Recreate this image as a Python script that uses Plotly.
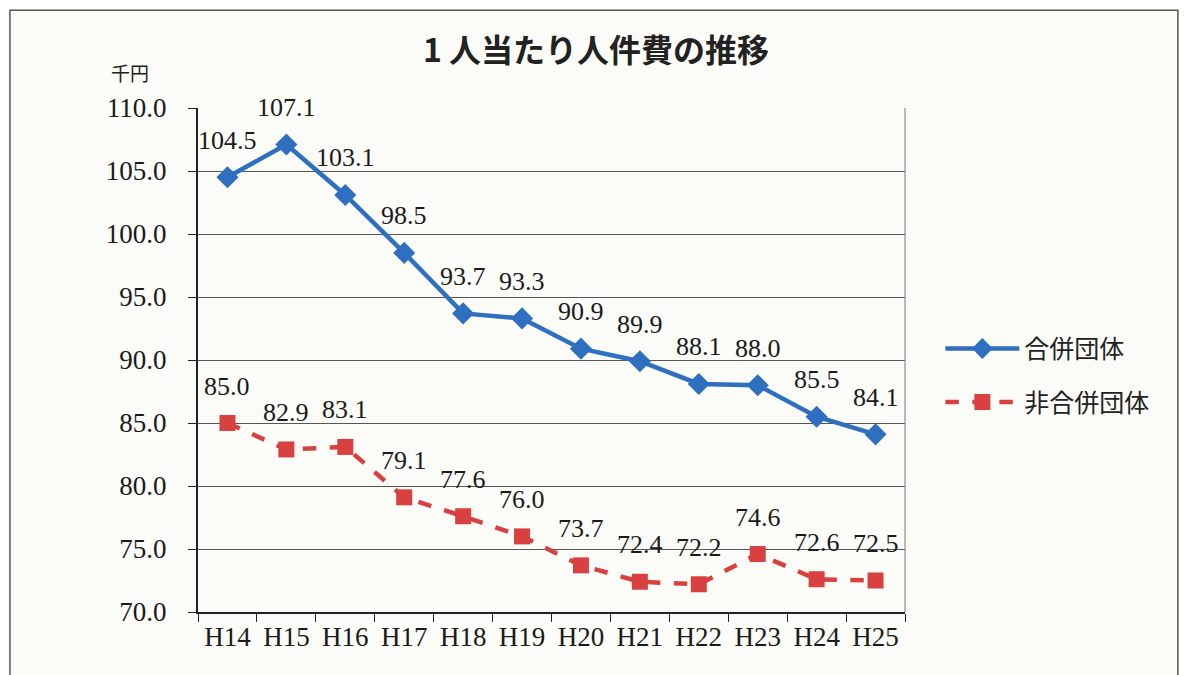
import plotly.graph_objects as go

categories = ["H14", "H15", "H16", "H17", "H18", "H19", "H20", "H21", "H22", "H23", "H24", "H25"]
merged = [104.5, 107.1, 103.1, 98.5, 93.7, 93.3, 90.9, 89.9, 88.1, 88.0, 85.5, 84.1]
non_merged = [85.0, 82.9, 83.1, 79.1, 77.6, 76.0, 73.7, 72.4, 72.2, 74.6, 72.6, 72.5]
y_ticks = [70, 75, 80, 85, 90, 95, 100, 105, 110]

serif = "Liberation Serif, DejaVu Serif, serif"
jp = "Noto Sans CJK JP, sans-serif"

blue = "#2f6fbf"
red = "#d8413f"

fig = go.Figure()
fig.add_trace(go.Scatter(
    x=categories, y=merged, name="合併団体", mode="lines+markers",
    line=dict(color=blue, width=4.5),
    marker=dict(symbol="diamond", size=17, color=blue),
    legendgroup="a",
))
fig.add_trace(go.Scatter(
    x=categories, y=non_merged, name="非合併団体", mode="lines+markers",
    line=dict(color=red, width=4.5, dash="dash"),
    marker=dict(symbol="square", size=16, color=red),
    legendgroup="b",
))

for series in (merged, non_merged):
    for c, v in zip(categories, series):
        fig.add_annotation(x=c, y=v, text=f"{v:.1f}", showarrow=False,
                           yshift=37, font=dict(family=serif, size=26, color="#1a1a1a"))

fig.add_annotation(xref="paper", yref="paper", x=-0.096, y=1.071, xanchor="center", yanchor="middle",
                   text="千円", showarrow=False, font=dict(family=jp, size=19, color="#222"))

fig.add_shape(type="rect", xref="paper", yref="paper",
              x0=-0.266, x1=1.386, y0=-0.2, y1=1.194,
              line=dict(color="#555", width=1.5), fillcolor="rgba(0,0,0,0)", layer="below")

fig.update_layout(
    width=1188, height=675,
    margin=dict(l=190, r=291, t=100, b=71),
    paper_bgcolor="#fbfbf8", plot_bgcolor="#fbfbf8",
    title=dict(text="<b>1 人当たり人件費の推移</b>", x=0.495, xanchor="center", y=0.936, yanchor="middle",
               font=dict(family=jp, size=32, color="#222")),
    showlegend=True,
    legend=dict(x=1.05, y=0.568, xanchor="left", yanchor="top",
                font=dict(family=jp, size=25, color="#222"),
                bgcolor="rgba(0,0,0,0)", itemwidth=74, tracegroupgap=18),
    xaxis=dict(type="category", categoryorder="array", categoryarray=categories,
               range=[-0.5, 11.5], tickson="boundaries", ticks="outside", ticklen=8,
               tickcolor="#222", showline=True, linecolor="#222", linewidth=2,
               showgrid=False, tickfont=dict(family=serif, size=27, color="#1a1a1a"),
               mirror=False),
    yaxis=dict(range=[70, 110], tickvals=y_ticks, ticktext=[f"{t:.1f}" for t in y_ticks],
               ticks="outside", ticklen=8, tickcolor="#222", ticklabelstandoff=16,
               showline=True, linecolor="#222", linewidth=2,
               showgrid=True, gridcolor="#555", gridwidth=1,
               tickfont=dict(family=serif, size=27, color="#1a1a1a"), zeroline=False),
)
fig.add_shape(type="line", xref="paper", yref="paper", x0=1, x1=1, y0=0, y1=1,
              line=dict(color="#777", width=1))

fig.write_html("out.html")
